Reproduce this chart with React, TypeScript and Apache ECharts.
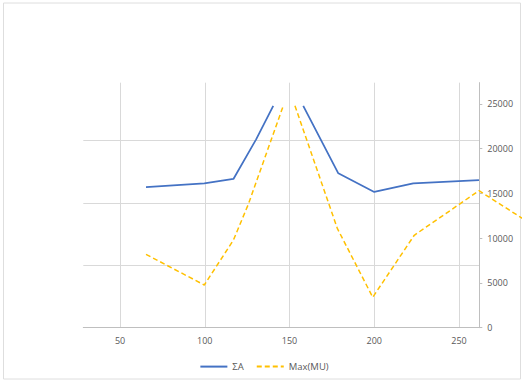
import React, { useEffect, useRef } from "react";
import * as echarts from "echarts";

// Series "ΣA" (null marks the gap where the line leaves the plot)
const sumAX: (number | null)[] = [65.3, 99.7, 116.9, 130.3, 140.4, null, 158.1, 178.8, 200, 223, 261.8];
const sumAY: (number | null)[] = [15720, 16140, 16620, 21050, 24800, null, 24800, 17250, 15170, 16140, 16500];

// Series "Max(MU)"
const maxMuX: (number | null)[] = [65.3, 99.7, 116.9, 125.7, 146.3, null, 153.2, 178.2, 199.1, 223.6, 261.8, 290];
const maxMuY: (number | null)[] = [8200, 4770, 9800, 13800, 24800, null, 24800, 11100, 3400, 10330, 15310, 11900];

const seriesNames = ["ΣA", "Max(MU)"];

// Axis ranges
const xMin = 28.3;
const xMax = 262;
const xMaxOuter = 286; // same scale, extended to the chart border
const rightMax = 27380;
const rightInterval = 5000;
const leftMax = 3.926; // hidden primary axis driving the horizontal gridlines

const toPairs = (xs: (number | null)[], ys: (number | null)[]) =>
  xs.map((x, i) => (x === null || ys[i] === null ? "-" : [x, ys[i]]));

const grid = "#d9d9d9";
const axisGray = "#bfbfbf";
const labelColor = "#595959";
const font = "Open Sans";

export default function App() {
  const ref = useRef<HTMLDivElement>(null);
  useEffect(() => {
    if (!ref.current) return;
    const chart = echarts.init(ref.current, undefined, { renderer: "svg" });
    chart.setOption({
      animation: false,
      backgroundColor: "#ffffff",
      textStyle: { fontFamily: font },
      graphic: [
        {
          type: "rect",
          shape: { x: 3.5, y: 3, width: 517, height: 376 },
          style: { fill: "none", stroke: "#dedede", lineWidth: 1 },
          silent: true,
        },
      ],
      grid: [
        { left: 83.3, right: 48.7, top: 82.7, bottom: 55.3, containLabel: false },
        { left: 83.3, right: 8, top: 82.7, bottom: 55.3, containLabel: false },
      ],
      legend: {
        data: seriesNames,
        left: "center",
        top: 356,
        itemWidth: 27,
        itemHeight: 14,
        itemGap: 12,
        itemStyle: { opacity: 0 },
        textStyle: { color: labelColor, fontSize: 9.5, fontFamily: font },
      },
      xAxis: [
        {
          type: "value",
          gridIndex: 0,
          min: xMin,
          max: xMax,
          splitNumber: 5,
          axisLine: { show: true, onZero: false, lineStyle: { color: axisGray, width: 1 } },
          axisTick: { show: false },
          axisLabel: {
            color: labelColor,
            fontSize: 9,
            fontFamily: font,
            margin: 8,
            showMinLabel: false,
            showMaxLabel: false,
          },
          splitLine: {
            show: true,
            lineStyle: { color: ["transparent", grid, grid, grid, grid, grid, axisGray], width: 1 },
          },
        },
        {
          type: "value",
          gridIndex: 1,
          min: xMin,
          max: xMaxOuter,
          show: false,
          splitLine: { show: false },
        },
      ],
      yAxis: [
        {
          type: "value",
          gridIndex: 0,
          position: "left",
          min: 0,
          max: leftMax,
          interval: 1,
          axisLine: { show: false },
          axisTick: { show: false },
          axisLabel: { show: false },
          splitLine: {
            show: true,
            lineStyle: { color: [axisGray, grid, grid, grid, "transparent"], width: 1 },
          },
        },
        {
          type: "value",
          gridIndex: 0,
          position: "right",
          min: 0,
          max: rightMax,
          interval: rightInterval,
          axisLine: { show: true, lineStyle: { color: axisGray, width: 1 } },
          axisTick: { show: true, length: 3, lineStyle: { color: axisGray } },
          axisLabel: {
            color: labelColor,
            fontSize: 9,
            fontFamily: font,
            margin: 8,
            showMaxLabel: false,
            formatter: (v: number) => String(v),
          },
          splitLine: { show: false },
        },
        {
          type: "value",
          gridIndex: 1,
          min: 0,
          max: rightMax,
          show: false,
          splitLine: { show: false },
        },
      ],
      series: [
        {
          name: seriesNames[0],
          type: "line",
          xAxisIndex: 0,
          yAxisIndex: 1,
          data: toPairs(sumAX, sumAY),
          symbol: "none",
          connectNulls: false,
          lineStyle: { color: "#4472C4", width: 1.75 },
          itemStyle: { color: "#4472C4" },
        },
        {
          name: seriesNames[1],
          type: "line",
          xAxisIndex: 1,
          yAxisIndex: 2,
          data: toPairs(maxMuX, maxMuY),
          symbol: "none",
          connectNulls: false,
          lineStyle: { color: "#FFC000", width: 1.5, type: [5, 3] },
          itemStyle: { color: "#FFC000" },
          clip: true,
        },
      ],
    });
    return () => chart.dispose();
  }, []);
  return (
    <div
      style={{ position: "fixed", left: 0, top: 0, width: 528, height: 383, background: "#fff" }}
    >
      <div ref={ref} style={{ width: 528, height: 383 }} />
    </div>
  );
}
